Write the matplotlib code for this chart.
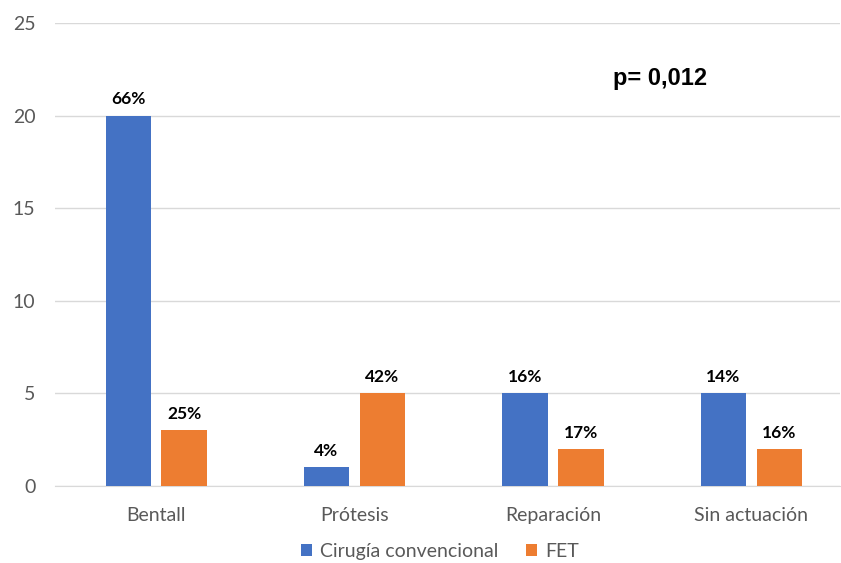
import numpy as np
import matplotlib.pyplot as plt

categories = ["Bentall", "Prótesis", "Reparación", "Sin actuación"]
cirugia = [20, 1, 5, 5]
fet = [3, 5, 2, 2]
cirugia_pct = ["66%", "4%", "16%", "14%"]
fet_pct = ["25%", "42%", "17%", "16%"]

BLUE = "#4472C4"
ORANGE = "#ED7D31"

plt.rcParams["font.family"] = ["Lato", "DejaVu Sans"]

fig = plt.figure(figsize=(8.41, 5.63), dpi=100)
ax = fig.add_axes([0.0654, 0.1368, 0.9334, 0.8222])

x = np.arange(len(categories))
w = 0.227
off = 0.141
b1 = ax.bar(x - off, cirugia, w, color=BLUE, label="Cirugía convencional", zorder=3)
b2 = ax.bar(x + off, fet, w, color=ORANGE, label="FET", zorder=3)

for bars, labels in ((b1, cirugia_pct), (b2, fet_pct)):
    for rect, lab in zip(bars, labels):
        ax.annotate(lab, (rect.get_x() + rect.get_width() / 2, rect.get_height()),
                    xytext=(0, 6), textcoords="offset points",
                    ha="center", va="bottom", fontsize=12.5, fontweight="bold",
                    color="black")

ax.set_xlim(-0.509, 3.446)
ax.set_ylim(0, 25)
ax.set_yticks(range(0, 26, 5))
ax.set_xticks(x)
ax.set_xticklabels(categories)
ax.tick_params(axis="both", length=0, labelsize=14, colors="#595959")
ax.tick_params(axis="y", pad=14)
ax.tick_params(axis="x", pad=15)

ax.yaxis.grid(True, color="#D9D9D9", linewidth=1, zorder=0)
for s in ("top", "right", "left"):
    ax.spines[s].set_visible(False)
ax.spines["bottom"].set_color("#D9D9D9")

ax.text(0.711, 0.881, "p= 0,012", transform=ax.transAxes,
        fontsize=17, fontweight="bold", family=["Liberation Sans", "DejaVu Sans"],
        ha="left", va="center")

fig.legend(loc="lower center", bbox_to_anchor=(0.523, -0.026), ncol=2,
           frameon=False, fontsize=14, handlelength=0.6, handleheight=0.6,
           columnspacing=1.4, handletextpad=0.4, labelcolor="#595959")

fig.savefig("out.png", dpi=100)
